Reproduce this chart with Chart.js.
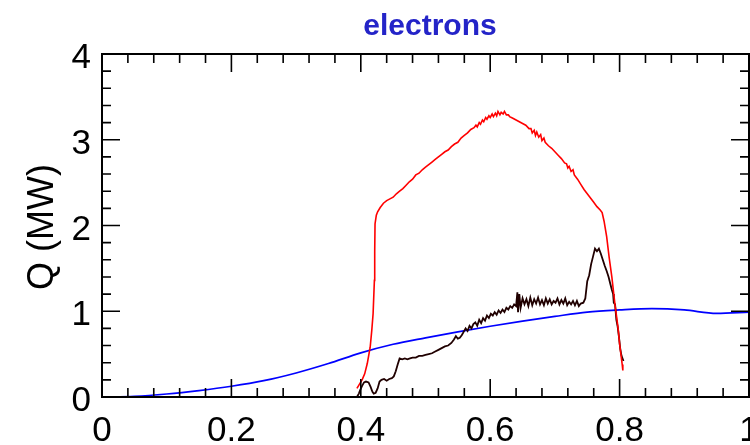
<!DOCTYPE html>
<html>
<head>
<meta charset="utf-8">
<script src="https://cdn.jsdelivr.net/npm/chart.js@4.4.1/dist/chart.umd.min.js"></script>
<style>
html,body{margin:0;padding:0;background:#fff;}
#wrap{width:750px;height:445px;}
</style>
</head>
<body>
<div id="wrap"><canvas id="c" width="750" height="445"></canvas></div>
<script>
// ---------- data ----------
const titleText = 'electrons';
const yAxisLabel = 'Q (MW)';
const xTickValues = [0, 0.2, 0.4, 0.6, 0.8, 1];
const xTickLabels = ['0', '0.2', '0.4', '0.6', '0.8', '1'];
const yTickValues = [0, 1, 2, 3, 4];
const yTickLabels = ['0', '1', '2', '3', '4'];

const blueX = [0,0.05,0.1,0.15,0.2,0.25,0.3,0.35,0.4,0.45,0.5,0.55,0.6,0.65,0.7,0.75,0.8,0.85,0.9,0.95,1.0];
const blueY = [0,0.008,0.035,0.075,0.125,0.19,0.28,0.39,0.515,0.615,0.69,0.76,0.825,0.885,0.94,0.99,1.015,1.03,1.015,0.975,0.99];

const redX = [0.394,0.398,0.402,0.406,0.410,0.4145,0.417,0.419,0.421,0.4215,0.422,0.424,0.426,0.430,0.435,0.440,0.445,0.450,0.455,0.460,0.465,0.470,0.475,0.480,0.485,0.490,0.495,0.500,0.505,0.510,0.515,0.520,0.525,0.530,0.535,0.540,0.545,0.550,0.555,0.560,0.565,0.570,0.575,0.578,0.580,0.583,0.585,0.588,0.590,0.593,0.595,0.598,0.600,0.603,0.605,0.608,0.610,0.612,0.615,0.617,0.620,0.622,0.625,0.628,0.630,0.635,0.640,0.645,0.650,0.655,0.660,0.663,0.665,0.668,0.670,0.672,0.675,0.678,0.680,0.683,0.685,0.690,0.695,0.700,0.705,0.710,0.715,0.718,0.720,0.722,0.725,0.728,0.730,0.735,0.740,0.745,0.750,0.755,0.760,0.765,0.770,0.773,0.776,0.780,0.784,0.788,0.791,0.793,0.796,0.798,0.800,0.802,0.804,0.805];
const redY = [0.10,0.15,0.20,0.27,0.39,0.58,0.78,0.97,1.36,1.70,2.02,2.12,2.16,2.21,2.26,2.29,2.31,2.33,2.37,2.40,2.43,2.47,2.51,2.54,2.59,2.61,2.65,2.68,2.71,2.74,2.77,2.80,2.83,2.86,2.88,2.92,2.95,2.97,3.02,3.05,3.08,3.12,3.14,3.17,3.15,3.20,3.18,3.23,3.21,3.26,3.24,3.28,3.26,3.30,3.27,3.31,3.28,3.33,3.29,3.32,3.30,3.33,3.29,3.29,3.27,3.25,3.23,3.21,3.19,3.17,3.13,3.13,3.08,3.11,3.05,3.09,3.03,3.06,2.99,3.02,2.97,2.93,2.90,2.86,2.82,2.78,2.73,2.72,2.67,2.69,2.63,2.65,2.59,2.54,2.48,2.42,2.37,2.32,2.27,2.22,2.18,2.15,2.05,1.87,1.62,1.40,1.20,1.07,0.90,0.78,0.62,0.50,0.38,0.31];

const blackX = [0.394,0.397,0.399,0.402,0.405,0.408,0.412,0.415,0.418,0.420,0.423,0.426,0.429,0.432,0.436,0.440,0.444,0.448,0.451,0.454,0.457,0.460,0.464,0.468,0.472,0.476,0.480,0.485,0.490,0.495,0.500,0.505,0.510,0.515,0.520,0.525,0.530,0.535,0.540,0.544,0.547,0.550,0.553,0.556,0.559,0.562,0.565,0.568,0.571,0.574,0.577,0.580,0.583,0.586,0.589,0.592,0.595,0.598,0.601,0.604,0.607,0.610,0.613,0.616,0.619,0.622,0.625,0.628,0.631,0.634,0.637,0.640,0.642,0.643,0.645,0.647,0.650,0.653,0.656,0.659,0.662,0.665,0.668,0.671,0.674,0.677,0.680,0.683,0.686,0.689,0.692,0.695,0.698,0.701,0.704,0.707,0.710,0.713,0.716,0.719,0.722,0.725,0.728,0.731,0.734,0.737,0.740,0.744,0.747,0.750,0.753,0.756,0.759,0.762,0.765,0.768,0.771,0.774,0.777,0.780,0.783,0.786,0.788,0.790,0.791,0.793,0.795,0.797,0.799,0.801,0.803,0.806];
const blackY = [0.00,0.04,0.08,0.13,0.17,0.18,0.17,0.12,0.06,0.04,0.05,0.10,0.18,0.20,0.21,0.19,0.21,0.22,0.24,0.30,0.38,0.45,0.44,0.45,0.44,0.45,0.46,0.46,0.48,0.48,0.49,0.50,0.51,0.53,0.55,0.57,0.59,0.60,0.63,0.67,0.71,0.68,0.69,0.72,0.76,0.80,0.77,0.83,0.80,0.85,0.87,0.83,0.90,0.86,0.92,0.89,0.95,0.92,0.97,0.95,0.99,0.96,1.01,0.98,1.02,0.99,1.04,1.02,1.06,1.04,1.08,1.06,1.22,0.99,1.20,1.04,1.15,1.08,1.14,1.06,1.16,1.07,1.14,1.09,1.16,1.08,1.13,1.07,1.15,1.09,1.14,1.08,1.12,1.10,1.15,1.08,1.13,1.09,1.15,1.07,1.11,1.08,1.12,1.07,1.12,1.06,1.09,1.10,1.15,1.35,1.42,1.55,1.64,1.73,1.70,1.73,1.67,1.60,1.53,1.47,1.40,1.31,1.25,1.20,1.10,1.08,0.90,0.82,0.70,0.56,0.48,0.42];

function pts(xs, ys){ return xs.map((x,i)=>({x:x, y:ys[i]})); }

// ---------- frame / ticks / text plugin ----------
const FONT = '"Liberation Sans", Arial, Helvetica, sans-serif';
const framePlugin = {
  id: 'idlFrame',
  afterDatasetsDraw(chart){
    const ctx = chart.ctx;
    const xs = chart.scales.x, ys = chart.scales.y;
    const L = xs.getPixelForValue(0), R = xs.getPixelForValue(1);
    const T = ys.getPixelForValue(4), B = ys.getPixelForValue(0);
    ctx.save();
    ctx.strokeStyle = '#000';
    ctx.lineWidth = 2;
    ctx.strokeRect(L, T, R - L, B - T);
    ctx.lineWidth = 1.6;
    ctx.beginPath();
    // x ticks (bottom & top)
    for (let i = 0; i <= 25; i++) {
      const v = i * 0.04;
      const px = xs.getPixelForValue(v);
      const len = (i % 5 === 0) ? 18 : 9;
      ctx.moveTo(px, B); ctx.lineTo(px, B - len);
      ctx.moveTo(px, T); ctx.lineTo(px, T + len);
    }
    // y ticks (left & right)
    for (let i = 0; i <= 20; i++) {
      const v = i * 0.2;
      const py = ys.getPixelForValue(v);
      const len = (i % 5 === 0) ? 18 : 9;
      ctx.moveTo(L, py); ctx.lineTo(L + len, py);
      ctx.moveTo(R, py); ctx.lineTo(R - len, py);
    }
    ctx.stroke();

    ctx.fillStyle = '#000';
    ctx.font = '35px ' + FONT;
    ctx.textAlign = 'center';
    ctx.textBaseline = 'alphabetic';
    xTickValues.forEach((v, i) => {
      ctx.fillText(xTickLabels[i], xs.getPixelForValue(v), 441);
    });
    ctx.textAlign = 'right';
    yTickValues.forEach((v, i) => {
      ctx.fillText(yTickLabels[i], 91, ys.getPixelForValue(v) + 14);
    });

    // y axis title
    ctx.save();
    ctx.translate(53, 227);
    ctx.rotate(-Math.PI / 2);
    ctx.textAlign = 'center';
    ctx.font = '36px ' + FONT;
    ctx.fillText(yAxisLabel, 0, 0);
    ctx.restore();

    // chart title
    ctx.fillStyle = '#2424c8';
    ctx.font = 'bold 30px ' + FONT;
    ctx.textAlign = 'center';
    ctx.fillText(titleText, 430, 35);
    ctx.restore();
  }
};

new Chart(document.getElementById('c'), {
  type: 'line',
  data: {
    datasets: [
      { label: 'red', data: pts(redX, redY), borderColor: '#ff0000', borderWidth: 1.6, pointRadius: 0, tension: 0, fill: false },
      { label: 'black', data: pts(blackX, blackY), borderColor: '#200000', borderWidth: 1.8, pointRadius: 0, tension: 0, fill: false },
      { label: 'blue', data: pts(blueX, blueY), borderColor: '#0000ff', borderWidth: 1.7, pointRadius: 0, tension: 0.4, cubicInterpolationMode: 'monotone', fill: false }
    ]
  },
  options: {
    responsive: false,
    animation: false,
    events: [],
    layout: { padding: { top: 54, right: 1, left: 0, bottom: 0 } },
    plugins: { legend: { display: false }, tooltip: { enabled: false }, title: { display: false } },
    scales: {
      x: {
        type: 'linear', min: 0, max: 1,
        ticks: { display: false }, grid: { display: false }, border: { display: false },
        afterFit(s){ s.height = 48; s.paddingLeft = 0; s.paddingRight = 0; }
      },
      y: {
        type: 'linear', min: 0, max: 4,
        ticks: { display: false }, grid: { display: false }, border: { display: false },
        afterFit(s){ s.width = 102; s.paddingTop = 0; s.paddingBottom = 0; }
      }
    }
  },
  plugins: [framePlugin]
});
</script>
</body>
</html>
